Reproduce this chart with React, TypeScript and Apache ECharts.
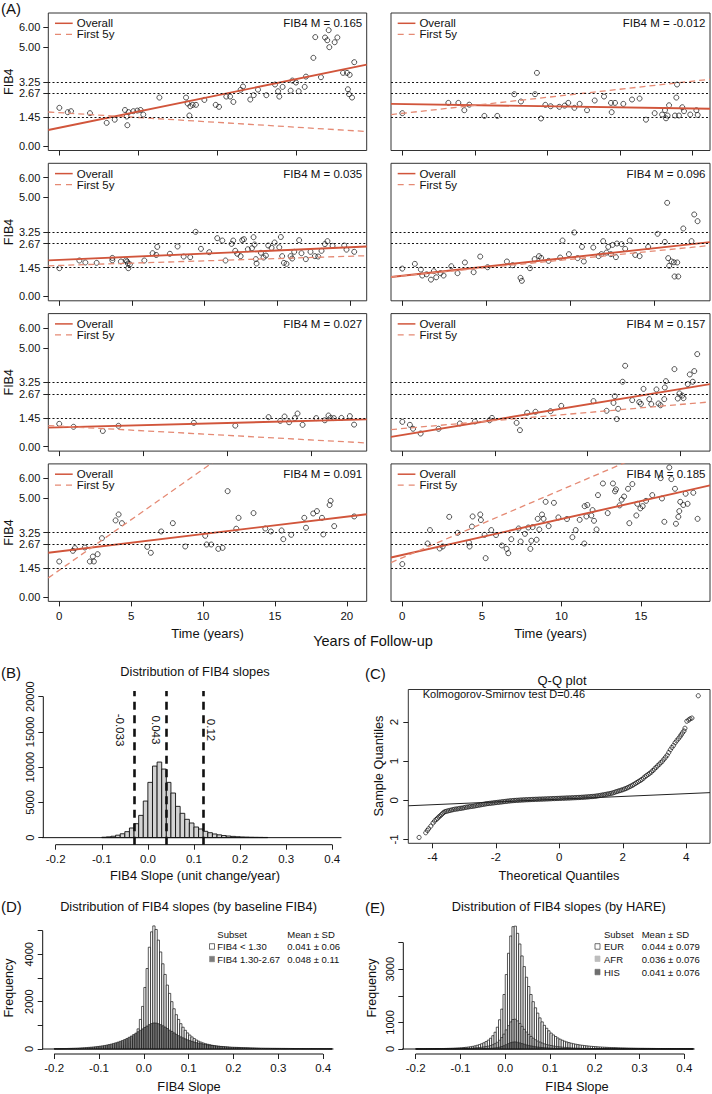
import React, { useEffect, useRef } from 'react';
import * as echarts from 'echarts';

const FONT = "'Liberation Sans', Arial, Helvetica, sans-serif";
const RED = '#d1553b';
const RED2 = '#e58a74';
const INK = '#111';

// ---------- Panel A data ----------
const panelSlopeLabels = ['0.165', '-0.012', '0.035', '0.096', '0.027', '0.157', '0.091', '0.185'];
const fib4Ticks = [0, 1.45, 2.67, 3.25, 5, 6];
const fib4RefLevels = [1.45, 2.67, 3.25];
const timeTicks = [0, 5, 10, 15, 20];

const pts1 = [[0.0,1.93],[0.53,1.71],[0.74,1.76],[1.94,1.66],[3.0,1.17],[3.51,1.33],[4.16,1.82],[4.27,1.49],[4.31,1.05],[4.39,1.71],[4.69,1.76],[4.94,1.79],[5.15,1.82],[5.32,1.59],[6.34,2.45],[8.03,2.45],[8.13,2.15],[8.24,1.54],[8.3,2.01],[8.45,2.08],[8.66,2.08],[9.19,2.33],[9.91,2.08],[10.12,1.98],[10.58,2.5],[10.82,2.5],[11.03,2.23],[11.49,2.84],[11.64,3.01],[12.1,2.35],[12.32,2.57],[12.59,2.85],[13.12,2.57],[13.67,3.11],[13.86,2.77],[13.94,2.5],[14.15,2.99],[14.66,2.8],[14.77,3.31],[15.0,3.21],[15.17,2.77],[15.55,2.99],[15.63,3.51],[16.1,4.46],[16.22,5.51],[16.58,3.48],[16.84,5.49],[16.98,5.35],[17.07,5.86],[17.11,5.0],[17.45,5.25],[17.62,5.49],[17.98,3.7],[18.23,3.7],[18.4,3.6],[18.29,2.87],[18.36,2.62],[18.55,2.45],[18.69,4.24]];
const pts2 = [[0,1.66],[3.17,2.18],[3.86,2.18],[4.27,1.81],[4.61,2.09],[5.65,1.52],[6.54,1.52],[7.71,2.62],[8.17,2.25],[9.14,2.62],[9.27,3.7],[9.55,1.39],[9.85,2.08],[10.22,2.01],[10.81,1.98],[11.18,2.04],[11.43,2.18],[11.85,1.93],[12.21,2.13],[12.72,1.81],[13.25,2.3],[13.89,2.5],[14.37,2.18],[14.65,2.18],[14.42,1.71],[15.22,2.13],[15.82,2.35],[16.34,2.4],[16.78,1.33],[17.38,1.66],[17.89,1.59],[18.09,1.81],[18.16,1.4],[18.27,1.54],[18.37,2.06],[18.78,1.54],[19.05,1.54],[18.92,3.11],[18.87,2.45],[19.28,1.96],[19.4,1.76],[19.83,1.59],[20.25,1.81],[20.34,1.57]];
const pts3 = [[0,1.42],[1.38,1.81],[1.79,1.71],[2.57,1.69],[3.65,1.94],[3.65,1.82],[4.24,1.76],[4.59,1.82],[4.66,1.76],[4.72,1.66],[4.75,1.42],[4.86,1.62],[5.85,1.81],[6.42,2.18],[6.67,2.09],[6.74,2.5],[7.61,2.15],[8.14,2.52],[8.56,2.01],[9.01,1.98],[9.38,3.26],[9.75,2.4],[10.32,2.23],[10.87,2.94],[11.22,2.82],[11.44,1.81],[11.86,2.65],[11.97,2.82],[12.11,2.3],[12.25,2.15],[12.48,2.03],[12.59,2.84],[12.71,2.89],[12.98,2.38],[13.26,2.43],[13.37,2.99],[13.44,2.62],[13.53,1.88],[13.58,1.66],[13.88,2.2],[14.06,1.96],[14.22,2.06],[14.38,2.57],[14.61,2.45],[14.82,2.72],[15.14,2.48],[15.25,3.0],[15.34,2.03],[15.46,1.69],[15.64,1.64],[15.92,2.03],[16.03,1.91],[16.17,2.25],[16.51,2.84],[16.67,2.18],[16.97,1.88],[17.29,2.25],[17.59,2.03],[17.82,2.01],[18.05,2.3],[18.28,2.64],[18.46,2.79],[18.81,2.55],[19.61,2.57],[19.77,2.36],[20.3,2.25]];
const pts4 = [[0,1.4],[0.75,1.64],[1.11,1.35],[1.19,1.05],[1.45,1.11],[1.71,0.84],[1.88,1.27],[2.02,0.96],[2.28,1.17],[2.46,1.05],[2.92,1.52],[3.29,1.17],[3.73,1.71],[4.25,1.22],[4.64,2.01],[5.08,1.47],[6.23,1.76],[6.57,1.57],[7.04,0.93],[7.12,0.78],[7.6,1.42],[7.88,1.88],[8.14,2.03],[8.27,1.94],[8.71,1.79],[9.4,1.96],[9.54,2.82],[9.92,2.13],[10.24,3.23],[10.44,1.93],[10.7,2.5],[10.81,1.76],[11.37,2.47],[11.69,2.03],[11.85,2.13],[11.96,2.79],[12.16,2.21],[12.26,2.5],[12.42,2.13],[12.52,2.6],[12.72,1.98],[12.78,2.67],[13.06,2.64],[13.27,2.4],[13.55,2.82],[13.87,2.09],[14.13,2.03],[14.64,2.5],[15.2,3.16],[15.63,2.75],[15.77,4.73],[15.83,1.93],[15.89,1.54],[16.03,1.76],[16.17,1.72],[16.37,1.71],[16.21,1.0],[16.43,1.0],[16.73,3.43],[17.22,2.79],[17.38,4.14],[17.58,3.8]];
const pts5 = [[0,1.15],[0.85,1.0],[2.59,0.79],[3.52,1.05],[8.0,1.2],[10.46,1.06],[12.44,1.49],[13.13,1.3],[13.39,1.52],[13.66,1.23],[14.0,1.44],[14.16,1.67],[14.46,1.1],[15.27,1.44],[15.78,1.33],[16.0,1.57],[16.12,1.45],[16.32,1.44],[16.77,1.45],[17.27,1.54],[17.52,1.11]];
const pts6 = [[0,1.25],[0.41,1.1],[0.58,0.9],[0.99,0.66],[1.96,0.9],[3.11,1.17],[3.92,1.27],[4.71,1.33],[4.84,1.45],[6.17,1.2],[6.35,0.83],[6.74,1.71],[7.19,1.76],[8.0,1.79],[8.58,2.06],[10.32,2.3],[11.03,1.81],[11.4,2.21],[11.47,2.55],[11.58,1.39],[11.65,1.91],[11.89,3.28],[12.03,4.09],[12.41,2.35],[12.79,2.25],[12.88,2.16],[13.02,2.92],[13.33,2.4],[13.44,2.15],[13.72,2.89],[13.83,2.18],[13.94,2.09],[14.14,2.4],[14.17,2.99],[14.23,3.31],[14.69,3.92],[14.87,2.43],[14.96,2.69],[15.11,2.58],[15.18,2.45],[15.41,3.16],[15.52,3.65],[15.68,3.28],[15.76,3.82],[15.92,4.68]];
const pts7 = [[0,1.79],[0.95,2.33],[1.09,2.47],[1.78,2.5],[2.13,1.79],[2.34,2.04],[2.41,1.79],[2.67,2.16],[2.97,2.97],[3.92,3.87],[4.13,4.17],[4.36,3.73],[6.12,2.53],[6.37,2.23],[7.09,3.31],[7.9,3.73],[8.76,2.55],[10.15,3.09],[10.25,2.65],[10.57,2.65],[11.06,2.43],[11.36,2.48],[11.71,5.35],[12.31,3.45],[12.47,4.0],[13.51,4.24],[14.33,3.46],[14.72,3.31],[15.46,3.36],[15.58,2.92],[16.13,3.14],[17.04,4.0],[17.16,3.5],[17.66,4.22],[17.92,4.34],[18.27,4.0],[18.36,3.16],[18.8,4.65],[18.87,4.86],[19.12,3.58],[20.51,4.07]];
const pts8 = [[0,1.66],[1.59,2.7],[1.74,3.38],[2.35,2.45],[2.54,2.55],[2.95,4.05],[3.48,3.24],[4.19,2.75],[4.23,2.55],[4.42,4.07],[4.38,3.56],[4.9,4.17],[4.94,3.89],[5.24,1.96],[5.17,3.14],[5.59,3.38],[5.89,3.13],[6.26,2.6],[6.56,2.43],[6.66,2.21],[6.85,2.92],[7.31,3.46],[7.44,2.8],[7.71,3.19],[7.92,3.51],[8.05,2.43],[8.11,2.84],[8.19,3.53],[8.44,2.89],[8.51,3.95],[8.61,3.41],[8.78,4.17],[8.88,3.95],[9.01,4.81],[9.2,3.58],[9.53,4.76],[9.81,4.02],[10.35,3.94],[10.69,3.02],[10.9,3.38],[11.15,3.9],[11.44,2.7],[11.46,4.59],[11.57,4.07],[11.63,4.65],[11.88,4.12],[11.96,4.39],[12.05,3.85],[12.21,3.41],[12.3,5.15],[12.61,5.74],[12.91,4.24],[13.24,5.74],[13.37,5.34],[13.43,5.44],[13.66,4.63],[13.79,4.92],[13.94,5.08],[14.19,5.47],[14.27,3.73],[14.46,5.71],[14.71,4.12],[14.77,4.71],[14.96,4.48],[15.11,4.59],[15.32,4.86],[15.71,5.15],[16.24,6.01],[16.32,4.98],[16.47,3.8],[16.78,6.55],[16.91,5.96],[17.14,5.47],[17.2,3.7],[17.35,4.05],[17.41,4.34],[17.47,4.81],[17.66,4.65],[17.81,5.22],[17.93,4.71],[18.29,5.27],[18.56,3.95]];
const panelPoints = [pts1, pts2, pts3, pts4, pts5, pts6, pts7, pts8];

const overallIntercept = [0.92, 2.12, 1.84, 1.04, 0.975, 0.585, 2.3, 2.12];
const overallSlope = [0.164, -0.011, 0.032, 0.0927, 0.022, 0.155, 0.088, 0.182];
const first5Intercept = [1.685, 1.65, 1.56, 1.03, 1.03, 0.91, 1.35, 1.98];
const first5Slope = [-0.049, 0.0815, 0.0233, 0.084, -0.0464, 0.0813, 0.511, 0.344];

// ---------- Panel B data ----------
const slopeTicks = [-0.2, -0.1, 0, 0.1, 0.2, 0.3, 0.4];
const bBinStart = -0.1;
const bBinWidth = 0.01;
const bCounts = [60,110,200,350,550,850,1370,1980,3160,5190,7840,10150,10720,9730,7840,6330,4440,3450,2600,2080,1510,1230,900,700,520,400,300,230,180,130,100,80,60,50,40,30];
const bBreaksRange = [-0.24, 0.42];
const bCountTicks = [0, 5000, 10000, 15000, 20000];
const bCutoffs = [-0.033, 0.043, 0.12];
const bCutoffLabels = ['-0.033', '0.043', '0.12'];

// ---------- Panel C data ----------
const qqPoints = [[-4.42,-0.95],[-4.21,-0.83],[-4.16,-0.77],[-4.12,-0.73],[-4.05,-0.66],[-3.98,-0.58],[-3.93,-0.53],[-3.88,-0.49],[-3.84,-0.46],[-3.8,-0.43],[-3.76,-0.4],[-3.72,-0.37],[-3.68,-0.34],[-3.64,-0.31],[-3.6,-0.29],[-3.55,-0.28],[-3.5,-0.27],[-3.45,-0.26],[-3.4,-0.25],[-3.35,-0.24],[-3.3,-0.23],[-3.25,-0.225],[-3.2,-0.22],[-3.15,-0.21],[-3.1,-0.205],[-3.05,-0.2],[-3.0,-0.19],[-2.95,-0.18],[-2.9,-0.175],[-2.85,-0.167],[-2.8,-0.16],[-2.75,-0.155],[-2.7,-0.15],[-2.65,-0.142],[-2.6,-0.135],[-2.55,-0.127],[-2.5,-0.12],[-2.45,-0.112],[-2.4,-0.105],[-2.35,-0.097],[-2.3,-0.09],[-2.25,-0.085],[-2.2,-0.08],[-2.15,-0.075],[-2.1,-0.07],[-2.05,-0.065],[-2.0,-0.06],[-1.95,-0.055],[-1.9,-0.05],[-1.85,-0.045],[-1.8,-0.04],[-1.75,-0.035],[-1.7,-0.03],[-1.65,-0.025],[-1.6,-0.02],[-1.55,-0.016],[-1.5,-0.012],[-1.45,-0.008],[-1.4,-0.005],[-1.35,-0.002],[-1.3,0.0],[-1.25,0.003],[-1.2,0.005],[-1.15,0.008],[-1.1,0.01],[-1.05,0.012],[-1.0,0.014],[-0.95,0.016],[-0.9,0.018],[-0.85,0.02],[-0.8,0.022],[-0.75,0.024],[-0.7,0.025],[-0.65,0.027],[-0.6,0.028],[-0.55,0.03],[-0.5,0.031],[-0.45,0.033],[-0.4,0.035],[-0.35,0.036],[-0.3,0.038],[-0.25,0.04],[-0.2,0.042],[-0.15,0.043],[-0.1,0.045],[-0.05,0.046],[0,0.048],[0.05,0.05],[0.1,0.052],[0.15,0.053],[0.2,0.055],[0.25,0.057],[0.3,0.058],[0.35,0.06],[0.4,0.062],[0.45,0.064],[0.5,0.066],[0.55,0.068],[0.6,0.07],[0.65,0.072],[0.7,0.075],[0.75,0.077],[0.8,0.08],[0.85,0.083],[0.9,0.086],[0.95,0.09],[1.0,0.093],[1.05,0.096],[1.1,0.1],[1.15,0.105],[1.2,0.11],[1.25,0.117],[1.3,0.125],[1.35,0.132],[1.4,0.14],[1.45,0.147],[1.5,0.155],[1.55,0.162],[1.6,0.17],[1.65,0.18],[1.7,0.19],[1.75,0.205],[1.8,0.22],[1.85,0.232],[1.9,0.245],[1.95,0.257],[2.0,0.27],[2.05,0.285],[2.1,0.3],[2.15,0.32],[2.2,0.34],[2.25,0.36],[2.3,0.38],[2.35,0.405],[2.4,0.43],[2.45,0.455],[2.5,0.48],[2.55,0.505],[2.6,0.53],[2.65,0.565],[2.7,0.6],[2.75,0.63],[2.8,0.66],[2.85,0.69],[2.9,0.72],[2.95,0.76],[3.0,0.8],[3.05,0.84],[3.1,0.88],[3.15,0.92],[3.2,0.96],[3.25,1.0],[3.3,1.05],[3.35,1.1],[3.4,1.15],[3.45,1.22],[3.5,1.29],[3.55,1.35],[3.6,1.4],[3.65,1.47],[3.7,1.52],[3.75,1.57],[3.8,1.62],[3.84,1.67],[3.88,1.72],[3.93,1.77],[3.96,1.84],[4.02,2.02],[4.08,2.05],[4.12,2.08],[4.18,2.1],[4.38,2.67]];
const qqLineIntercept = 0.027;
const qqLineSlope = 0.0353;
const qqXTicks = [-4, -2, 0, 2, 4];
const qqYTicks = [-1, 0, 1, 2];

// ---------- Panel D data (bins of 0.005 starting at -0.20) ----------
const histBinStart = -0.2;
const histBinWidth = 0.005;
const dLow = [3,3,4,4,5,5,6,7,8,9,10,10,12,14,15,18,20,22,25,28,32,36,40,46,52,60,70,80,95,110,130,155,190,240,320,430,600,850,1250,1800,2600,3400,4300,4950,5200,5050,4600,4100,3600,3150,2700,2350,2000,1700,1450,1250,1070,920,790,680,590,510,440,380,330,290,255,225,200,178,158,140,125,112,100,90,82,74,67,61,56,51,47,43,40,37,34,31,29,27,25,23,21,20,18,17,16,15,14,13,12,11,10,10,9,9,8,8,7,7,7,6,6,6,5,5,5,4,4,4,4,3,3,3];
const dMid = [12,14,16,18,20,22,25,28,32,36,40,45,50,56,62,70,78,87,97,108,120,134,150,168,188,210,235,262,292,325,360,400,445,495,550,610,670,730,790,850,910,970,1030,1075,1100,1095,1070,1030,980,925,865,800,740,680,620,565,515,470,428,390,355,323,295,270,247,226,207,190,175,161,148,137,127,118,110,102,95,89,83,78,73,69,65,61,58,55,52,49,47,45,43,41,39,37,35,34,32,31,30,29,28,27,26,25,24,23,22,21,20,20,19,19,18,18,17,17,16,16,15,15,14,14,13,13];
const dCountTicks = [0, 1000, 2000, 3000, 4000, 5000];
const dCountLabels = [0, 2000, 4000];

// ---------- Panel E data (bins of 0.005 starting at -0.20) ----------
const eEUR = [5,5,6,6,7,8,9,10,12,13,15,17,19,21,24,27,30,34,38,43,49,56,64,74,86,100,118,140,166,198,235,280,335,405,500,630,820,1100,1500,2050,2800,3600,4250,4600,4620,4350,3950,3500,3100,2700,2350,2050,1780,1550,1350,1170,1020,890,780,685,600,530,470,415,370,330,295,265,240,218,198,180,165,151,139,128,118,109,101,94,87,81,76,71,66,62,58,55,52,49,46,43,41,39,37,35,33,31,29,28,27,26,25,24,23,22,21,20,19,18,17,17,16,16,15,15,14,14,13,13,12,12,11,11];
const eAFR = [1,1,1,2,2,2,2,3,3,3,4,5,5,6,7,8,9,10,12,14,16,19,22,26,30,35,41,48,56,66,78,92,110,132,160,200,255,330,430,560,720,880,1020,1110,1120,1060,960,850,740,640,550,470,405,350,300,260,225,195,170,148,130,114,100,88,78,69,61,54,48,43,38,34,31,28,25,23,21,19,17,16,15,14,13,12,11,10,9,9,8,8,7,7,6,6,6,5,5,5,5,4,4,4,4,4,3,3,3,3,3,3,3,2,2,2,2,2,2,2,2,2,1,1,1,1];
const eHIS = [0,0,0,0,0,1,1,1,1,1,1,1,1,1,1,2,2,2,2,3,3,3,4,4,5,6,7,8,10,12,14,17,21,26,33,42,55,72,95,125,165,205,240,262,268,255,232,205,180,156,135,117,101,87,75,65,56,49,43,37,32,28,25,22,19,17,15,13,12,11,10,9,8,7,7,6,6,5,5,4,4,4,3,3,3,3,3,2,2,2,2,2,2,2,2,2,1,1,1,1,1,1,1,1,1,1,1,1,1,1,1,1,1,1,1,1,1,0,0,0,0,0,0,0];
const eCountTicks = [0, 1000, 2000, 3000, 4000];
const eCountLabels = [0, 1000, 3000];
const histBreaksRange = [-0.237, 0.423];

// ---------- helpers ----------
function T(text: string, x: number, y: number, size: number, opts: any = {}) {
  return {
    type: 'text', x, y, rotation: opts.rotation || 0, silent: true, z: 50,
    style: {
      text, fontSize: size, fontFamily: FONT, fill: opts.fill || INK,
      align: opts.align || 'center', verticalAlign: 'middle',
    },
  };
}

function histSeries(gi: number, start: number, w: number, counts: number[], fill: string, lw: number, z: number) {
  return {
    type: 'custom', xAxisIndex: gi, yAxisIndex: gi, silent: true, z,
    data: counts.map((c, i) => [start + i * w, start + (i + 1) * w, c]),
    encode: { x: [0, 1], y: 2 },
    renderItem: (params: any, api: any) => {
      const a = api.coord([api.value(0), 0]);
      const b = api.coord([api.value(1), api.value(2)]);
      return {
        type: 'rect',
        shape: { x: a[0], y: b[1], width: b[0] - a[0], height: a[1] - b[1] },
        style: { fill, stroke: '#111', lineWidth: lw },
      };
    },
  };
}

function segSeries(gi: number, data: number[][], style: any, extra: any = {}) {
  return {
    type: 'line', xAxisIndex: gi, yAxisIndex: gi, data, symbol: 'none', showSymbol: false,
    silent: true, clip: false, lineStyle: style, z: 6, ...extra,
  };
}

const plain = (v: any) => String(Math.round(Number(v)));
const noLine = { show: false, onZero: false };

function buildOption() {
  const grid: any[] = [];
  const xAxis: any[] = [];
  const yAxis: any[] = [];
  const series: any[] = [];
  const graphic: any[] = [];

  const tickStyle = { color: '#222', width: 1 };
  const lbl = (size: number, extra: any = {}) => ({ fontSize: size, fontFamily: FONT, color: INK, ...extra });

  // ---------------- Panel A: 8 scatter panels ----------------
  const xRanges = [[-0.70, 19.48], [-0.78, 21.19], [-0.76, 21.16], [-0.67, 18.32], [-0.65, 18.27], [-0.61, 16.61], [-0.76, 21.38], [-0.71, 19.34]];
  for (let p = 0; p < 8; p++) {
    const r = Math.floor(p / 2);
    const c = p % 2;
    const left = c === 0 ? 48.3 : 391;
    const width = c === 0 ? 318.4 : 319;
    const top = 13 + 150.3 * r;
    const height = 137.5;
    grid.push({ left, top, width, height, show: true, borderColor: '#333', borderWidth: 1, backgroundColor: 'transparent' });
    const [xmin, xmax] = xRanges[p];
    const xt = timeTicks.filter((v) => v <= xmax);
    xAxis.push({
      gridIndex: p, type: 'value', min: xmin, max: xmax,
      splitLine: { show: false }, axisLine: noLine,
      axisTick: { show: true, length: 5, customValues: xt, lineStyle: tickStyle },
      axisLabel: { show: r === 3, customValues: xt, margin: 9, ...lbl(11.5) },
    });
    yAxis.push({
      gridIndex: p, type: 'value', min: -0.23, max: 6.73,
      splitLine: { show: false }, axisLine: noLine,
      axisTick: { show: c === 0, length: 5, customValues: fib4Ticks, lineStyle: tickStyle },
      axisLabel: { show: c === 0, customValues: fib4Ticks, margin: 8, formatter: (v: any) => Number(v).toFixed(2), ...lbl(11) },
    });
    series.push({
      type: 'scatter', xAxisIndex: p, yAxisIndex: p, data: panelPoints[p], silent: true,
      symbol: 'circle', symbolSize: 5,
      itemStyle: { color: 'rgba(0,0,0,0)', borderColor: '#111', borderWidth: 0.9 },
      z: 2,
      markLine: {
        silent: true, symbol: 'none', label: { show: false },
        lineStyle: { color: '#111', type: [2, 2.2], width: 1.1 },
        data: fib4RefLevels.map((v) => ({ yAxis: v })),
      },
    });
    const a = overallIntercept[p], b = overallSlope[p];
    series.push({
      type: 'line', xAxisIndex: p, yAxisIndex: p, silent: true, symbol: 'none', showSymbol: false, clip: true, z: 4,
      data: [[xmin, a + b * xmin], [xmax, a + b * xmax]],
      lineStyle: { color: RED, width: 1.9 },
    });
    const a2 = first5Intercept[p], b2 = first5Slope[p];
    series.push({
      type: 'line', xAxisIndex: p, yAxisIndex: p, silent: true, symbol: 'none', showSymbol: false, clip: true, z: 4,
      data: [[xmin, a2 + b2 * xmin], [xmax, a2 + b2 * xmax]],
      lineStyle: { color: RED2, width: 1.3, type: [6, 4] },
    });
    graphic.push({ type: 'line', silent: true, z: 50, shape: { x1: left + 6.7, y1: top + 10.3, x2: left + 24.4, y2: top + 10.3 }, style: { stroke: RED, lineWidth: 1.5 } });
    graphic.push(T('Overall', left + 28.4, top + 10.3, 11.5, { align: 'left' }));
    graphic.push({ type: 'line', silent: true, z: 50, shape: { x1: left + 6.7, y1: top + 21.3, x2: left + 24.4, y2: top + 21.3 }, style: { stroke: RED2, lineWidth: 1.3, lineDash: [6, 5] } });
    graphic.push(T('First 5y', left + 28.4, top + 21.3, 11.5, { align: 'left' }));
    graphic.push(T('FIB4 M = ' + panelSlopeLabels[p], left + width - 4.5, top + 10.3, 11.5, { align: 'right' }));
    if (c === 0) graphic.push(T('FIB4', 9, top + 68.7, 12.5, { rotation: Math.PI / 2 }));
  }
  graphic.push(T('(A)', 1, 8.5, 15, { align: 'left' }));
  graphic.push(T('Time (years)', 207.5, 633, 13));
  graphic.push(T('Time (years)', 550.5, 633, 13));
  graphic.push(T('Years of Follow-up', 373, 641, 14.5));

  // ---------------- Panel B: histogram ----------------
  {
    const gi = 8;
    grid.push({ left: 43.3, top: 691, width: 309.6, height: 153.7 });
    const ymin = -1000, ymax = 20800, xmin = -0.2269, xmax = 0.4448;
    xAxis.push({
      gridIndex: gi, type: 'value', min: xmin, max: xmax, splitLine: { show: false }, axisLine: noLine,
      axisTick: { length: 5, customValues: slopeTicks, lineStyle: tickStyle },
      axisLabel: { customValues: slopeTicks, margin: 8, formatter: (v: any) => Number(v).toFixed(1), ...lbl(11.5) },
    });
    yAxis.push({
      gridIndex: gi, type: 'value', min: ymin, max: ymax, splitLine: { show: false }, axisLine: noLine,
      axisTick: { length: 5, customValues: bCountTicks, lineStyle: tickStyle },
      axisLabel: { customValues: bCountTicks, rotate: 90, margin: 8, formatter: plain, ...lbl(11) },
    });
    series.push(histSeries(gi, bBinStart, bBinWidth, bCounts, '#d3d3d3', 0.9, 3));
    series.push(segSeries(gi, [[bBreaksRange[0], 0], [bBreaksRange[1], 0]], { color: '#111', width: 1 }, {
      markLine: {
        silent: true, symbol: 'none', label: { show: false },
        lineStyle: { color: '#111', width: 2.6, type: [8, 5.5] },
        data: bCutoffs.map((v) => ({ xAxis: v })),
      },
    }));
    series.push(segSeries(gi, [[slopeTicks[0], ymin], [slopeTicks[slopeTicks.length - 1], ymin]], { color: '#111', width: 1 }));
    series.push(segSeries(gi, [[xmin, 0], [xmin, bCountTicks[bCountTicks.length - 1]]], { color: '#111', width: 1 }));
    graphic.push(T('(B)', 1, 672, 15, { align: 'left' }));
    graphic.push(T('Distribution of FIB4 slopes', 195, 671.7, 12.8));
    graphic.push(T('FIB4 Slope (unit change/year)', 195, 875, 12.8));
    const lx = [120, 156, 211.3];
    bCutoffLabels.forEach((s, i) => graphic.push(T(s, lx[i], 730, 11.5, { rotation: -Math.PI / 2 })));
  }

  // ---------------- Panel C: Q-Q plot ----------------
  {
    const gi = 9;
    grid.push({ left: 408.3, top: 689.5, width: 301.7, height: 153.8, show: true, borderColor: '#333', borderWidth: 1 });
    const xmin = -4.76, xmax = 4.75;
    xAxis.push({
      gridIndex: gi, type: 'value', min: xmin, max: xmax, splitLine: { show: false }, axisLine: noLine,
      axisTick: { length: 5, customValues: qqXTicks, lineStyle: tickStyle },
      axisLabel: { customValues: qqXTicks, margin: 8, ...lbl(11.5) },
    });
    yAxis.push({
      gridIndex: gi, type: 'value', min: -1.1, max: 2.83, splitLine: { show: false }, axisLine: noLine,
      axisTick: { length: 5, customValues: qqYTicks, lineStyle: tickStyle },
      axisLabel: { customValues: qqYTicks, rotate: 90, margin: 8, ...lbl(11.5) },
    });
    series.push({
      type: 'scatter', xAxisIndex: gi, yAxisIndex: gi, data: qqPoints, silent: true,
      symbol: 'circle', symbolSize: 4.2,
      itemStyle: { color: 'rgba(0,0,0,0)', borderColor: '#111', borderWidth: 0.9 },
    });
    series.push({
      type: 'line', xAxisIndex: gi, yAxisIndex: gi, silent: true, symbol: 'none', showSymbol: false, clip: true,
      data: [[xmin, qqLineIntercept + qqLineSlope * xmin], [xmax, qqLineIntercept + qqLineSlope * xmax]],
      lineStyle: { color: '#222', width: 1 },
    });
    graphic.push(T('(C)', 365, 673, 15, { align: 'left' }));
    graphic.push(T('Q-Q plot', 562, 680, 13));
    graphic.push(T('Kolmogorov-Smirnov test D=0.46', 422.7, 693.8, 11, { align: 'left' }));
    graphic.push(T('Theoretical Quantiles', 559, 875, 12.8));
    graphic.push(T('Sample Quantiles', 378, 766, 12.8, { rotation: Math.PI / 2 }));
  }

  // ---------------- Panel D ----------------
  {
    const gi = 10;
    grid.push({ left: 42.7, top: 920, width: 300.6, height: 134 });
    const xmin = -0.2256, xmax = 0.445, ymin = -211, ymax = 5450;
    xAxis.push({
      gridIndex: gi, type: 'value', min: xmin, max: xmax, splitLine: { show: false }, axisLine: noLine,
      axisTick: { length: 5, customValues: slopeTicks, lineStyle: tickStyle },
      axisLabel: { customValues: slopeTicks, margin: 8, formatter: (v: any) => Number(v).toFixed(1), ...lbl(11.5) },
    });
    yAxis.push({
      gridIndex: gi, type: 'value', min: ymin, max: ymax, splitLine: { show: false }, axisLine: noLine,
      axisTick: { length: 5, customValues: dCountTicks, lineStyle: tickStyle },
      axisLabel: { customValues: dCountLabels, rotate: 90, margin: 8, formatter: plain, ...lbl(11) },
    });
    series.push(histSeries(gi, histBinStart, histBinWidth, dLow, '#ffffff', 0.7, 3));
    series.push(histSeries(gi, histBinStart, histBinWidth, dMid, '#7c7c7c', 0.6, 4));
    series.push(segSeries(gi, [[histBreaksRange[0], 0], [histBreaksRange[1], 0]], { color: '#111', width: 1 }));
    series.push(segSeries(gi, [[slopeTicks[0], ymin], [slopeTicks[slopeTicks.length - 1], ymin]], { color: '#111', width: 1 }));
    series.push(segSeries(gi, [[xmin, 0], [xmin, dCountTicks[dCountTicks.length - 1]]], { color: '#111', width: 1 }));
    graphic.push(T('(D)', 1, 906, 15, { align: 'left' }));
    graphic.push(T('Distribution of FIB4 slopes (by baseline FIB4)', 188.5, 906.7, 12.8));
    graphic.push(T('FIB4 Slope', 189, 1086.7, 12.8));
    graphic.push(T('Frequency', 9, 988, 12.5, { rotation: Math.PI / 2 }));
    graphic.push(T('Subset', 217.3, 934.3, 9.5, { align: 'left' }));
    graphic.push(T('Mean ± SD', 287.3, 934.3, 9.5, { align: 'left' }));
    graphic.push({ type: 'rect', silent: true, z: 50, shape: { x: 209.5, y: 943.7, width: 5, height: 5.5 }, style: { fill: '#fff', stroke: '#333', lineWidth: 0.7 } });
    graphic.push(T('FIB4 < 1.30', 217.3, 946.7, 9.5, { align: 'left' }));
    graphic.push(T('0.041 ± 0.06', 287.3, 946.7, 9.5, { align: 'left' }));
    graphic.push({ type: 'rect', silent: true, z: 50, shape: { x: 209.5, y: 956.3, width: 5, height: 5.5 }, style: { fill: '#7c7c7c', stroke: '#7c7c7c', lineWidth: 0.5 } });
    graphic.push(T('FIB4 1.30-2.67', 217.3, 959.3, 9.5, { align: 'left' }));
    graphic.push(T('0.048 ± 0.11', 287.3, 959.3, 9.5, { align: 'left' }));
  }

  // ---------------- Panel E ----------------
  {
    const gi = 11;
    grid.push({ left: 403.3, top: 921.9, width: 301.7, height: 132.1 });
    const xmin = -0.2277, xmax = 0.4462, ymin = -188, ymax = 4780;
    xAxis.push({
      gridIndex: gi, type: 'value', min: xmin, max: xmax, splitLine: { show: false }, axisLine: noLine,
      axisTick: { length: 5, customValues: slopeTicks, lineStyle: tickStyle },
      axisLabel: { customValues: slopeTicks, margin: 8, formatter: (v: any) => Number(v).toFixed(1), ...lbl(11.5) },
    });
    yAxis.push({
      gridIndex: gi, type: 'value', min: ymin, max: ymax, splitLine: { show: false }, axisLine: noLine,
      axisTick: { length: 5, customValues: eCountTicks, lineStyle: tickStyle },
      axisLabel: { customValues: eCountLabels, rotate: 90, margin: 8, formatter: plain, ...lbl(11) },
    });
    series.push(histSeries(gi, histBinStart, histBinWidth, eEUR, '#ffffff', 0.7, 3));
    series.push(histSeries(gi, histBinStart, histBinWidth, eAFR, '#bdbdbd', 0.6, 4));
    series.push(histSeries(gi, histBinStart, histBinWidth, eHIS, '#6e6e6e', 0.5, 5));
    series.push(segSeries(gi, [[histBreaksRange[0], 0], [histBreaksRange[1], 0]], { color: '#111', width: 1 }));
    series.push(segSeries(gi, [[slopeTicks[0], ymin], [slopeTicks[slopeTicks.length - 1], ymin]], { color: '#111', width: 1 }));
    series.push(segSeries(gi, [[xmin, 0], [xmin, eCountTicks[eCountTicks.length - 1]]], { color: '#111', width: 1 }));
    graphic.push(T('(E)', 365, 907, 15, { align: 'left' }));
    graphic.push(T('Distribution of FIB4 slopes (by HARE)', 558.8, 906.7, 12.8));
    graphic.push(T('FIB4 Slope', 577, 1086.7, 12.8));
    graphic.push(T('Frequency', 371.7, 988, 12.5, { rotation: Math.PI / 2 }));
    graphic.push(T('Subset', 604, 934.3, 9.5, { align: 'left' }));
    graphic.push(T('Mean ± SD', 641.7, 934.3, 9.5, { align: 'left' }));
    const rows = [['EUR', '0.044 ± 0.079', '#fff', '#333'], ['AFR', '0.036 ± 0.076', '#bdbdbd', '#bdbdbd'], ['HIS', '0.041 ± 0.076', '#6e6e6e', '#6e6e6e']];
    const ys = [946.7, 959, 972.3];
    rows.forEach((rw, i) => {
      graphic.push({ type: 'rect', silent: true, z: 50, shape: { x: 595, y: ys[i] - 3, width: 5, height: 5.5 }, style: { fill: rw[2], stroke: rw[3], lineWidth: 0.7 } });
      graphic.push(T(rw[0], 604, ys[i], 9.5, { align: 'left' }));
      graphic.push(T(rw[1], 641.7, ys[i], 9.5, { align: 'left' }));
    });
  }

  return {
    animation: false,
    backgroundColor: '#ffffff',
    textStyle: { fontFamily: FONT },
    grid, xAxis, yAxis, series, graphic,
  };
}

export default function App() {
  const ref = useRef<HTMLDivElement>(null);
  useEffect(() => {
    const chart = echarts.init(ref.current as HTMLDivElement, null, { renderer: 'svg' });
    chart.setOption(buildOption() as any);
    return () => chart.dispose();
  }, []);
  return (
    <div
      ref={ref}
      style={{ position: 'absolute', left: 0, top: 0, width: 712, height: 1094, background: '#fff' }}
    />
  );
}
